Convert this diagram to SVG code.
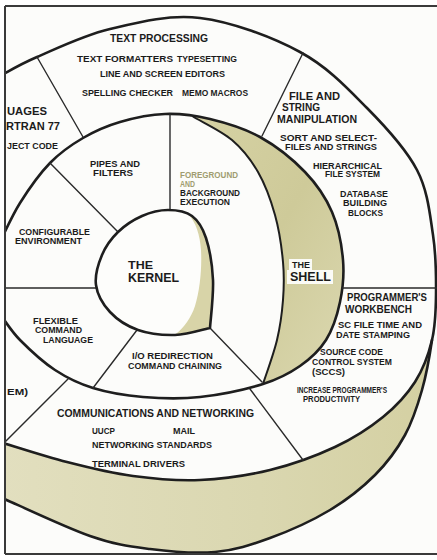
<svg xmlns="http://www.w3.org/2000/svg" width="437" height="560" viewBox="0 0 437 560">
<defs>
<clipPath id="frame"><rect x="5" y="6" width="432" height="548"/></clipPath>
<linearGradient id="shellShade" x1="0" y1="0" x2="1" y2="1">
<stop offset="0" stop-color="#d6d2a4"/><stop offset="0.5" stop-color="#ceca99"/><stop offset="1" stop-color="#dbd8b0"/>
</linearGradient>
<linearGradient id="bandShade" x1="0" y1="0" x2="1" y2="0">
<stop offset="0" stop-color="#e2dfbf"/><stop offset="0.6" stop-color="#dad7b0"/><stop offset="1" stop-color="#d4d0a2"/>
</linearGradient>
<style>
.ln{fill:none;stroke:#1e1e1e;stroke-linecap:round;stroke-linejoin:round}
.thick{stroke-width:2.6}
.mid{stroke-width:2}
.div{fill:none;stroke:#2a2a2a;stroke-width:1.4;stroke-linecap:round}
text{font-family:"Liberation Sans",Arial,sans-serif;font-weight:bold;fill:#1b1b1b}
.s85{font-size:8.5px}.s9{font-size:9px}.s10{font-size:10px}.s11{font-size:11px}
.faint{fill:#a09c70}
</style>
</defs>
<rect x="0" y="0" width="437" height="560" fill="#ffffff"/>
<g clip-path="url(#frame)">
<rect x="5" y="6" width="432" height="548" fill="#fcfcfa"/>
<g id="outer-band">
<path d="M432,340 C429.7,355.8 426.5,374.2 422,390 C417.5,405.8 412.8,420.8 405,435 C397.2,449.2 387.5,462.5 375,475 C362.5,487.5 347.5,499.5 330,510 C312.5,520.5 289.2,531 270,538 C250.8,545 235,550.2 215,552 C195,553.8 170.8,551.7 150,549 C129.2,546.3 115,544.7 90,536 C65,527.3 15,503.5 0,497 L0,442 C11.2,445.3 44.8,456.3 67,462 C89.2,467.7 110.8,473 133,476 C155.2,479 177.2,481 200,480 C222.8,479 247.5,475.5 270,470 C292.5,464.5 316.2,455.8 335,447 C353.8,438.2 369.7,427.8 383,417 C396.3,406.2 406.8,394.8 415,382 C423.2,369.2 428.5,354.5 432,340 Z" fill="url(#bandShade)"/>
<path class="ln thick" d="M432,340 C429.7,355.8 426.5,374.2 422,390 C417.5,405.8 412.8,420.8 405,435 C397.2,449.2 387.5,462.5 375,475 C362.5,487.5 347.5,499.5 330,510 C312.5,520.5 289.2,531 270,538 C250.8,545 235,550.2 215,552 C195,553.8 170.8,551.7 150,549 C129.2,546.3 115,544.7 90,536 C65,527.3 15,503.5 0,497"/>
</g>
<g id="outer-ring">
<path class="ln thick" d="M0,76 C6.2,72.8 18.7,64.8 37,57 C55.3,49.2 82.8,35.5 110,29 C137.2,22.5 168.3,14.2 200,18 C231.7,21.8 272.2,37 300,52 C327.8,67 347.5,88.3 367,108 C386.5,127.7 406,148.8 417,170 C428,191.2 429.8,214.2 433,235 C436.2,255.8 436.2,277.5 436,295 C435.8,312.5 435.5,325.5 432,340 C428.5,354.5 423.2,369.2 415,382 C406.8,394.8 396.3,406.2 383,417 C369.7,427.8 353.8,438.2 335,447 C316.2,455.8 292.5,464.5 270,470 C247.5,475.5 222.8,479 200,480 C177.2,481 155.2,479 133,476 C110.8,473 89.2,467.7 67,462 C44.8,456.3 11.2,445.3 0,442"/>
</g>
<g id="the-shell">
<path d="M193,116.5 C199.5,120.8 221.2,130.8 232,140 C242.8,149.2 250.8,159.5 258,172 C265.2,184.5 270.8,200 275,215 C279.2,230 281.7,247.8 283,262 C284.3,276.2 284,287 283,300 C282,313 280.3,326 277,340 C273.7,354 265.3,376.7 263,384 C279.7,378.8 289.5,373.3 300,366 C310.5,358.7 319.3,350.7 326,340 C332.7,329.3 337.2,315.3 340,302 C342.8,288.7 344.3,275 343,260 C341.7,245 338.3,226.7 332,212 C325.7,197.3 317,184.5 305,172 C293,159.5 275.8,145.8 260,137 C244.2,128.2 225.8,122.8 210,119 Z" fill="url(#shellShade)"/>
<path class="ln mid" d="M193,116.5 C199.5,120.8 221.2,130.8 232,140 C242.8,149.2 250.8,159.5 258,172 C265.2,184.5 270.8,200 275,215 C279.2,230 281.7,247.8 283,262 C284.3,276.2 284,287 283,300 C282,313 280.3,326 277,340 C273.7,354 265.3,376.7 263,384"/>
<path class="ln thick" d="M0,242 C3.3,235.5 11.7,216.2 20,203 C28.3,189.8 39.5,173.8 50,163 C60.5,152.2 71.3,144.8 83,138 C94.7,131.2 106.3,126 120,122 C133.7,118 150,114.5 165,114 C180,113.5 194.2,115.2 210,119 C225.8,122.8 244.2,128.2 260,137 C275.8,145.8 293,159.5 305,172 C317,184.5 325.7,197.3 332,212 C338.3,226.7 341.7,245 343,260 C344.3,275 342.8,288.7 340,302 C337.2,315.3 332.7,329.3 326,340 C319.3,350.7 310.5,358.7 300,366 C289.5,373.3 279.7,378.8 263,384 C246.3,389.2 220,394.8 200,397 C180,399.2 160.8,398.5 143,397 C125.2,395.5 107.7,392.5 93,388 C78.3,383.5 67.2,378 55,370 C42.8,362 29.2,349.3 20,340 C10.8,330.7 3.3,318.3 0,314"/>
<rect x="289" y="259" width="23" height="11" fill="#fbfbf6"/>
<rect x="287" y="270" width="46" height="14" fill="#fbfbf6"/>
<text class="s9" x="292" y="268" textLength="18" lengthAdjust="spacingAndGlyphs">THE</text>
<text x="290" y="281" font-size="12.5" textLength="41" lengthAdjust="spacingAndGlyphs">SHELL</text>
</g>
<g id="connectors">
<path class="div" d="M37,57 L83,137"/>
<path class="div" d="M303,53 L262,136"/>
<path class="div" d="M342,288 L437,288"/>
<path class="div" d="M250,389 L303,460"/>
<path class="div" d="M68,379 L3,444"/>
<path class="div" d="M50,163 L118,232"/>
<path class="div" d="M0,288 L96,288"/>
<path class="div" d="M137,330 L93,388"/>
<path class="div" d="M210,328 L262,382"/>
<path class="div" d="M170,114 L170,210"/>
</g>
<g id="the-kernel">
<path d="M210,328 C204.2,329.2 187,334.7 175,335 C163,335.3 148.8,333.8 138,330 C127.2,326.2 117,319.5 110,312 C103,304.5 97.3,294.5 96,285 C94.7,275.5 98.3,263.8 102,255 C105.7,246.2 111.3,238.5 118,232 C124.7,225.5 133.7,219.7 142,216 C150.3,212.3 159.7,210 168,210 C176.3,210 185.7,211.3 192,216 C198.3,220.7 202.5,227.3 206,238 C209.5,248.7 212.3,265 213,280 C213.7,295 210.5,320 210,328 Z" fill="#fdfdfb"/>
<path d="M188,214 C196,222 200,235 201,250 C202,268 200,290 195,306 C191,318 184,328 175,334.5 C187,334.7 204.2,329.2 210,328 C210.5,320 213.7,295 213,280 C212.3,265 209.5,248.7 206,238 C202.5,227.3 198.3,220.7 192,216 Z" fill="#d8d4a8"/>
<path class="ln thick" d="M210,328 C204.2,329.2 187,334.7 175,335 C163,335.3 148.8,333.8 138,330 C127.2,326.2 117,319.5 110,312 C103,304.5 97.3,294.5 96,285 C94.7,275.5 98.3,263.8 102,255 C105.7,246.2 111.3,238.5 118,232 C124.7,225.5 133.7,219.7 142,216 C150.3,212.3 159.7,210 168,210 C176.3,210 185.7,211.3 192,216 C198.3,220.7 202.5,227.3 206,238 C209.5,248.7 212.3,265 213,280 C213.7,295 210.5,320 210,328 Z"/>
<text x="128" y="269" font-size="11.5" textLength="25" lengthAdjust="spacingAndGlyphs">THE</text>
<text x="128" y="282" font-size="13.5" textLength="51" lengthAdjust="spacingAndGlyphs">KERNEL</text>
</g>
<g id="text-processing">
<text x="110" y="42" font-size="11.5" textLength="98" lengthAdjust="spacingAndGlyphs">TEXT PROCESSING</text>
<text class="s9" x="77" y="62" textLength="96" lengthAdjust="spacingAndGlyphs">TEXT FORMATTERS</text>
<text class="s9" x="177" y="62" textLength="60" lengthAdjust="spacingAndGlyphs">TYPESETTING</text>
<text class="s9" x="100" y="77" textLength="125" lengthAdjust="spacingAndGlyphs">LINE AND SCREEN EDITORS</text>
<text class="s9" x="82" y="95.5" textLength="91" lengthAdjust="spacingAndGlyphs">SPELLING CHECKER</text>
<text class="s9" x="182" y="95.5" textLength="66" lengthAdjust="spacingAndGlyphs">MEMO MACROS</text>
</g>
<g id="languages">
<text x="7" y="115" font-size="10.5" textLength="40" lengthAdjust="spacingAndGlyphs">UAGES</text>
<text x="6" y="130" font-size="11" textLength="54" lengthAdjust="spacingAndGlyphs">RTRAN 77</text>
<text class="s9" x="7" y="149" textLength="51" lengthAdjust="spacingAndGlyphs">JECT CODE</text>
</g>
<g id="file-string">
<text class="s10" x="289" y="99.5" textLength="51" lengthAdjust="spacingAndGlyphs">FILE AND</text>
<text class="s10" x="282" y="111" textLength="38" lengthAdjust="spacingAndGlyphs">STRING</text>
<text class="s10" x="277" y="123" textLength="80" lengthAdjust="spacingAndGlyphs">MANIPULATION</text>
<text class="s85" x="280" y="141" textLength="97" lengthAdjust="spacingAndGlyphs">SORT AND SELECT-</text>
<text class="s85" x="285" y="149.5" textLength="92" lengthAdjust="spacingAndGlyphs">FILES AND STRINGS</text>
<text class="s85" x="313" y="168.5" textLength="69" lengthAdjust="spacingAndGlyphs">HIERARCHICAL</text>
<text class="s85" x="325" y="177" textLength="55" lengthAdjust="spacingAndGlyphs">FILE SYSTEM</text>
<text class="s9" x="340" y="197" textLength="48" lengthAdjust="spacingAndGlyphs">DATABASE</text>
<text class="s9" x="343" y="206" textLength="44" lengthAdjust="spacingAndGlyphs">BUILDING</text>
<text class="s9" x="348" y="216" textLength="35" lengthAdjust="spacingAndGlyphs">BLOCKS</text>
</g>
<g id="programmers-workbench">
<text x="347" y="301" font-size="10.5" textLength="80" lengthAdjust="spacingAndGlyphs">PROGRAMMER'S</text>
<text x="345" y="313" font-size="11" textLength="67" lengthAdjust="spacingAndGlyphs">WORKBENCH</text>
<text class="s9" x="338" y="328" textLength="84" lengthAdjust="spacingAndGlyphs">SC FILE TIME AND</text>
<text class="s9" x="336" y="337.5" textLength="74" lengthAdjust="spacingAndGlyphs">DATE STAMPING</text>
<text class="s9" x="320" y="355" textLength="63" lengthAdjust="spacingAndGlyphs">SOURCE CODE</text>
<text class="s9" x="312" y="365" textLength="80" lengthAdjust="spacingAndGlyphs">CONTROL SYSTEM</text>
<text class="s9" x="312" y="374.5" textLength="33" lengthAdjust="spacingAndGlyphs">(SCCS)</text>
<text class="s85" x="297" y="393" textLength="90" lengthAdjust="spacingAndGlyphs">INCREASE PROGRAMMER'S</text>
<text class="s85" x="303" y="401.5" textLength="57" lengthAdjust="spacingAndGlyphs">PRODUCTIVITY</text>
</g>
<g id="communications">
<text x="57" y="417" font-size="11.5" textLength="197" lengthAdjust="spacingAndGlyphs">COMMUNICATIONS AND NETWORKING</text>
<text class="s85" x="92" y="434" textLength="23" lengthAdjust="spacingAndGlyphs">UUCP</text>
<text class="s85" x="173" y="434" textLength="22" lengthAdjust="spacingAndGlyphs">MAIL</text>
<text class="s85" x="92" y="448" textLength="120" lengthAdjust="spacingAndGlyphs">NETWORKING STANDARDS</text>
<text class="s85" x="92" y="467" textLength="93" lengthAdjust="spacingAndGlyphs">TERMINAL DRIVERS</text>
</g>
<g id="system">
<text class="s85" x="7" y="395" textLength="21" lengthAdjust="spacingAndGlyphs">EM)</text>
</g>
<g id="pipes-filters">
<text class="s85" x="90" y="167" textLength="50" lengthAdjust="spacingAndGlyphs">PIPES AND</text>
<text class="s85" x="93" y="175.5" textLength="40" lengthAdjust="spacingAndGlyphs">FILTERS</text>
</g>
<g id="foreground-background">
<text class="s9 faint" x="180" y="178" textLength="58" lengthAdjust="spacingAndGlyphs">FOREGROUND</text>
<text class="s85 faint" x="180" y="187" textLength="15" lengthAdjust="spacingAndGlyphs">AND</text>
<text class="s9" x="180" y="196" textLength="60" lengthAdjust="spacingAndGlyphs">BACKGROUND</text>
<text class="s9" x="180" y="205" textLength="50" lengthAdjust="spacingAndGlyphs">EXECUTION</text>
</g>
<g id="configurable-environment">
<text class="s85" x="19" y="234.5" textLength="71" lengthAdjust="spacingAndGlyphs">CONFIGURABLE</text>
<text class="s85" x="15" y="243.5" textLength="67" lengthAdjust="spacingAndGlyphs">ENVIRONMENT</text>
</g>
<g id="flexible-command-language">
<text class="s85" x="33" y="324" textLength="45" lengthAdjust="spacingAndGlyphs">FLEXIBLE</text>
<text class="s85" x="35" y="333" textLength="47" lengthAdjust="spacingAndGlyphs">COMMAND</text>
<text class="s85" x="43" y="343" textLength="50" lengthAdjust="spacingAndGlyphs">LANGUAGE</text>
</g>
<g id="io-redirection">
<text class="s85" x="132" y="359" textLength="81" lengthAdjust="spacingAndGlyphs">I/O REDIRECTION</text>
<text class="s85" x="128" y="368.5" textLength="94" lengthAdjust="spacingAndGlyphs">COMMAND CHAINING</text>
</g>
</g>
<g id="frame-lines" fill="none" stroke="#3a3a3a" stroke-width="2">
<path d="M5,6 L437,6"/>
<path d="M5,6 L5,554"/>
<path d="M5,554 L437,554"/>
</g>
</svg>
